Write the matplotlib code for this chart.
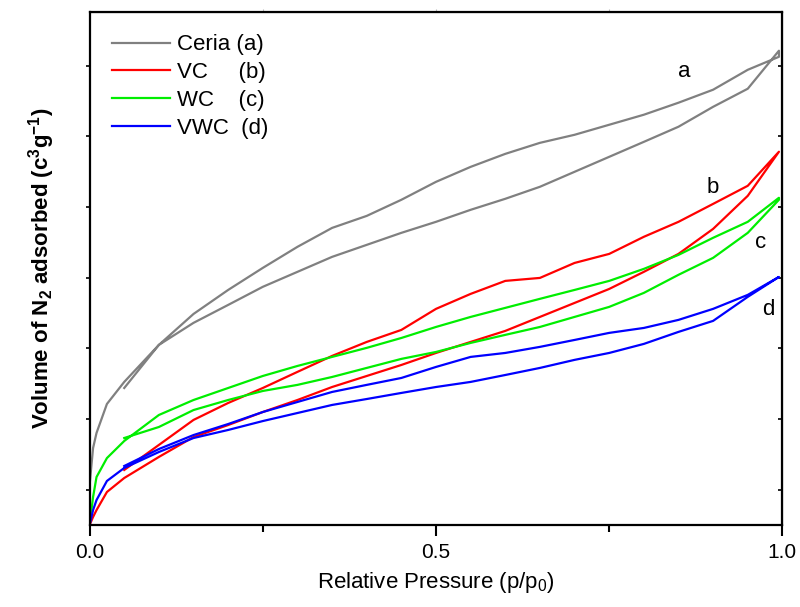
import matplotlib
matplotlib.use("Agg")
import matplotlib.pyplot as plt

plt.rcParams["font.family"] = ["Liberation Sans", "DejaVu Sans"]
plt.rcParams["mathtext.fontset"] = "custom"
plt.rcParams["mathtext.rm"] = "Liberation Sans"
plt.rcParams["mathtext.bf"] = "Liberation Sans:bold"
plt.rcParams["mathtext.default"] = "regular"

# relative pressure points, adsorption (up) and desorption (down)
p_ads = [0.0, 0.005, 0.01, 0.025, 0.05, 0.10, 0.15, 0.20, 0.25, 0.30, 0.35, 0.40,
         0.45, 0.50, 0.55, 0.60, 0.65, 0.70, 0.75, 0.80, 0.85, 0.90, 0.95, 0.995]
p_des = [0.995, 0.95, 0.90, 0.85, 0.80, 0.75, 0.70, 0.65, 0.60, 0.55, 0.50, 0.45,
         0.40, 0.35, 0.30, 0.25, 0.20, 0.15, 0.10, 0.05]

ceria_ads = [28.3, 54.5, 65.2, 85.7, 101.3, 127.5, 143.1, 155.8, 168.6, 179.2, 189.8, 198.3,
             206.8, 214.6, 223.1, 230.9, 239.4, 250.0, 260.6, 271.2, 281.9, 296.0, 308.8, 335.7]
ceria_des = [331.4, 322.2, 308.1, 298.9, 290.4, 283.3, 276.2, 270.5, 262.7, 253.5, 242.9, 230.2,
             218.8, 210.3, 196.9, 182.0, 166.4, 149.4, 127.5, 97.0]

vc_ads = [0.0, 5.7, 10.6, 23.4, 33.3, 48.2, 62.3, 70.8, 80.0, 88.5, 97.7, 105.5,
          113.3, 121.8, 129.6, 137.4, 147.3, 157.2, 167.1, 179.2, 191.9, 209.6, 233.0, 264.2]
vc_des = [264.2, 240.1, 227.3, 214.6, 204.0, 191.9, 185.5, 174.9, 172.8, 163.6, 153.0, 138.1,
          129.6, 119.7, 108.4, 97.0, 86.4, 74.4, 56.7, 39.0]

wc_ads = [0.0, 19.8, 34.0, 47.4, 59.5, 77.9, 88.5, 97.0, 105.5, 112.6, 119.0, 125.4,
          132.4, 140.2, 147.3, 153.7, 160.1, 166.4, 172.8, 181.3, 191.2, 203.3, 214.6, 231.6]
wc_des = [230.2, 206.8, 189.1, 177.1, 164.3, 154.4, 147.3, 140.2, 134.6, 128.9, 122.5, 117.6,
          111.2, 104.8, 99.2, 94.9, 88.5, 81.4, 69.4, 61.6]

vwc_ads = [0.0, 10.6, 17.7, 31.2, 40.4, 51.7, 61.6, 67.3, 73.6, 79.3, 85.0, 89.2,
           93.5, 97.7, 101.3, 106.2, 111.2, 116.9, 121.8, 128.2, 136.7, 144.5, 161.5, 175.6]
vwc_des = [175.6, 162.9, 153.0, 145.2, 139.5, 136.0, 131.0, 126.1, 121.8, 119.0, 111.9, 104.1,
           99.2, 94.2, 87.1, 80.0, 71.5, 63.7, 53.8, 41.8]

samples = [
    ("Ceria (a)", ceria_ads, ceria_des, "#808080"),
    ("VC     (b)", vc_ads, vc_des, "#ff0000"),
    ("WC    (c)", wc_ads, wc_des, "#00ee00"),
    ("VWC  (d)", vwc_ads, vwc_des, "#0000ff"),
]

# curve tags and where they sit
tag_text = ["a", "b", "c", "d"]
tag_p = [0.859, 0.900, 0.968, 0.979]
tag_v = [320.8, 238.6, 199.7, 152.2]

fig = plt.figure(figsize=(8.0, 6.07), dpi=100)
ax = fig.add_axes([0.112, 0.135, 0.866, 0.845])

for label, ads, des, color in samples:
    ax.plot(p_ads + p_des, ads + des, color=color, linewidth=1.6, label=label)

for t, px, py in zip(tag_text, tag_p, tag_v):
    ax.text(px, py, t, fontsize=16, ha="center", va="center")

ax.set_xlim(0.0, 1.0)
ax.set_ylim(0.0, 363.0)
ax.set_xticks([0.0, 0.5, 1.0])
ax.set_xticklabels(["0.0", "0.5", "1.0"])
ax.set_xticks([0.25, 0.75], minor=True)
ax.set_yticks([25, 75, 125, 175, 225, 275, 325])
ax.set_yticklabels([])

for side in ax.spines.values():
    side.set_linewidth(1.6)

ax.tick_params(axis="x", which="major", direction="out", length=8, width=1.5,
               labelsize=15, pad=5)
ax.tick_params(axis="x", which="minor", direction="out", length=5, width=1.5)
ax.tick_params(axis="y", which="major", direction="out", length=3, width=1.2)

top = ax.secondary_xaxis("top")
top.set_xticks([0.25, 0.5, 0.75])
top.set_xticklabels([])
top.tick_params(direction="out", length=2, width=0.8, color="#bbbbbb")

right = ax.secondary_yaxis("right")
right.set_yticks([25, 75, 125, 175, 225, 275, 325])
right.set_yticklabels([])
right.tick_params(direction="in", length=3, width=1.2)

ax.set_xlabel("Relative Pressure (p/p$_0$)", fontsize=16, labelpad=6)
ax.set_ylabel(r"Volume of N$_\mathbf{2}$ adsorbed (c$^\mathbf{3}$g$^\mathbf{-1}$)",
              fontsize=16, fontweight="bold", labelpad=17)

ax.legend(loc="upper left", frameon=False, fontsize=16, handlelength=2.6,
          handletextpad=0.35, labelspacing=0.31, borderaxespad=0.7, borderpad=0.3)

fig.savefig("out.png", dpi=100)
